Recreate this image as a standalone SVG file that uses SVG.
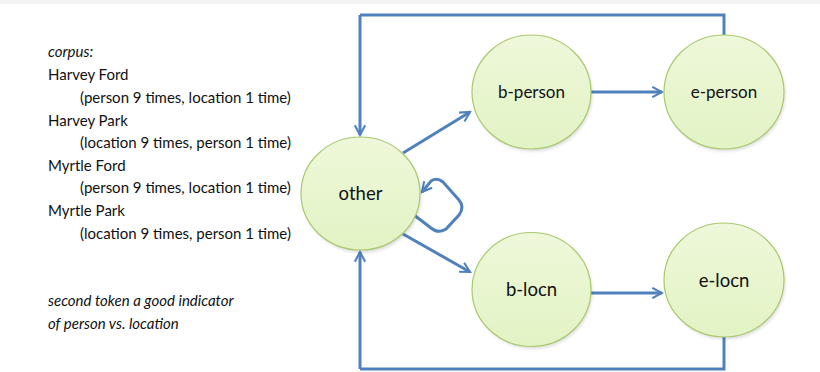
<svg xmlns="http://www.w3.org/2000/svg" width="820" height="372" viewBox="0 0 820 372">
<style>
.t{font-family:Lato,"Open Sans",sans-serif;font-size:15px;fill:#111}
.i{font-style:italic}
.n{font-family:Lato,"Open Sans",sans-serif;font-size:17px;fill:#111;text-anchor:middle}
.L{font-size:18.5px}
.node{fill:url(#g);stroke:#A9C86E;stroke-width:1.2}
.sh{fill:#000;opacity:0.12;filter:url(#b)}
.c{fill:none;stroke:#4F81BD;stroke-width:3;marker-end:url(#a)}
.c2{fill:none;stroke:#4F81BD;stroke-width:3}
</style>
<defs>
<linearGradient id="g" x1="0" y1="0" x2="0" y2="1">
<stop offset="0" stop-color="#EEF8DA"/>
<stop offset="1" stop-color="#E2F3C4"/>
</linearGradient>
<filter id="b" x="-20%" y="-20%" width="140%" height="140%"><feGaussianBlur stdDeviation="1.5"/></filter>
<marker id="a" viewBox="0 0 10 10" refX="8.5" refY="5" markerWidth="4.3" markerHeight="4.3" orient="auto" markerUnits="strokeWidth">
<path d="M1,1 L8.5,5 L1,9" fill="none" stroke="#4F81BD" stroke-width="1.6"/>
</marker>
</defs>
<rect x="0" y="0" width="820" height="372" fill="#fff"/>
<rect x="0" y="0" width="820" height="4" fill="#f3f3f3"/>
<g id="text">
<text class="t i" x="48" y="57">corpus:</text>
<text class="t" x="48" y="80">Harvey Ford</text>
<text class="t" x="80" y="103">(person 9 times, location 1 time)</text>
<text class="t" x="48" y="126">Harvey Park</text>
<text class="t" x="80" y="148">(location 9 times, person 1 time)</text>
<text class="t" x="48" y="171">Myrtle Ford</text>
<text class="t" x="80" y="193">(person 9 times, location 1 time)</text>
<text class="t" x="48" y="216">Myrtle Park</text>
<text class="t" x="80" y="239">(location 9 times, person 1 time)</text>
<text class="t i" x="48" y="306">second token a good indicator</text>
<text class="t i" x="48" y="329">of person vs. location</text>
</g>
<g id="connectors">
<path class="c2" d="M724,35 V15 H360"/>
<path class="c" d="M360,15 V135"/>
<path class="c2" d="M724,337 V369 H360"/>
<path class="c" d="M360,369 V252"/>
<path class="c" d="M403,153 L470,112"/>
<path class="c" d="M403,234 L470,272"/>
<path class="c" d="M591,92 L662,92"/>
<path class="c" d="M591,293 L662,293"/>
<path class="c" d="M414,215 L431,228 Q438,234 446,229 L459,215 Q465,207 459,200 L443,182 Q437,177 431,181 L422,192"/>
</g>
<g id="other">
<ellipse class="sh" cx="362" cy="196" rx="59.5" ry="57"/>
<ellipse class="node" cx="360.5" cy="193.5" rx="59.5" ry="56.5"/>
<text class="n L" x="360.5" y="200">other</text>
</g>
<g id="b-person">
<ellipse class="sh" cx="533" cy="94.5" rx="59.5" ry="57"/>
<ellipse class="node" cx="531.5" cy="92" rx="59.5" ry="57"/>
<text class="n" x="531.5" y="98">b-person</text>
</g>
<g id="e-person">
<ellipse class="sh" cx="725.5" cy="94.5" rx="60" ry="57"/>
<ellipse class="node" cx="724" cy="92" rx="60" ry="57"/>
<text class="n" x="724" y="98">e-person</text>
</g>
<g id="b-locn">
<ellipse class="sh" cx="533" cy="292" rx="59.5" ry="57"/>
<ellipse class="node" cx="531.5" cy="289.5" rx="59.5" ry="57"/>
<text class="n L" x="531.5" y="296">b-locn</text>
</g>
<g id="e-locn">
<ellipse class="sh" cx="725.5" cy="282.5" rx="60" ry="57"/>
<ellipse class="node" cx="724" cy="280" rx="60" ry="57"/>
<text class="n L" x="724" y="287">e-locn</text>
</g>
</svg>
